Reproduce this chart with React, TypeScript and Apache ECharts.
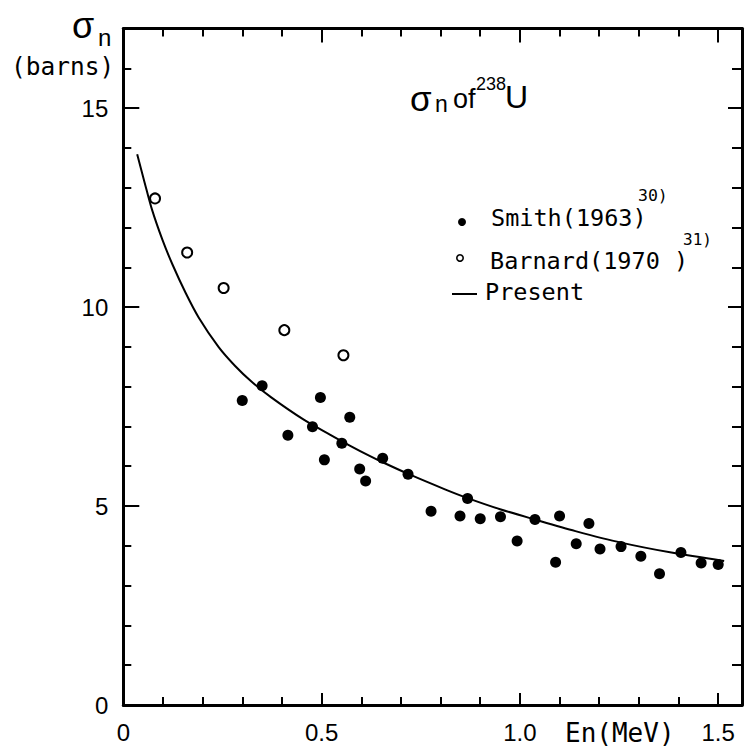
import React, { useEffect, useRef } from 'react';
import * as echarts from 'echarts';

// Smith (1963) — filled circles
const smithX = [0.300, 0.350, 0.415, 0.477, 0.497, 0.507, 0.551, 0.571, 0.596, 0.611, 0.654, 0.718, 0.776, 0.849, 0.868, 0.900, 0.951, 0.993, 1.038, 1.090, 1.100, 1.142, 1.174, 1.202, 1.255, 1.305, 1.352, 1.406, 1.457, 1.500];
const smithY = [7.65, 8.02, 6.78, 6.99, 7.73, 6.16, 6.58, 7.23, 5.93, 5.63, 6.20, 5.80, 4.87, 4.75, 5.19, 4.68, 4.73, 4.12, 4.66, 3.59, 4.75, 4.05, 4.56, 3.92, 3.98, 3.74, 3.30, 3.83, 3.57, 3.53];

// Barnard (1970) — open circles
const barnardX = [0.080, 0.161, 0.253, 0.406, 0.555];
const barnardY = [12.73, 11.37, 10.48, 9.42, 8.79];

// Present — curve
const presentX = [0.035, 0.054, 0.072, 0.099, 0.124, 0.157, 0.190, 0.240, 0.282, 0.323, 0.373, 0.455, 0.522, 0.571, 0.621, 0.654, 0.720, 0.811, 0.868, 0.950, 1.038, 1.140, 1.255, 1.382, 1.515];
const presentY = [13.84, 13.12, 12.46, 11.68, 11.07, 10.36, 9.74, 9.00, 8.52, 8.13, 7.73, 7.17, 6.79, 6.52, 6.26, 6.10, 5.80, 5.42, 5.20, 4.92, 4.66, 4.37, 4.08, 3.83, 3.62];

// Tick labels
const xTickValues = [0, 0.5, 1.0, 1.5];
const xTickLabels = ['0', '0.5', '1.0', '1.5'];
const yTickValues = [0, 5, 10, 15];
const yTickLabels = ['0', '5', '10', '15'];

const X_MAX = 1.56;
const Y_MAX = 17;

const SANS = '"Liberation Sans", Arial, sans-serif';
const MONO = '"DejaVu Sans Mono", monospace';

function pick(values: number[], labels: string[], v: number): string {
  const i = values.findIndex((t) => Math.abs(t - v) < 1e-6);
  return i >= 0 ? labels[i] : '';
}

function txt(text: string, x: number, y: number, font: string, align = 'left') {
  return {
    type: 'text',
    x,
    y,
    silent: true,
    style: { text, font, fill: '#000', textAlign: align, textVerticalAlign: 'middle' },
  };
}

function frameAxis(
  position: string,
  max: number,
  interval: number,
  tickLen: number,
  showLine: boolean,
  label: any
) {
  return {
    type: 'value',
    gridIndex: 0,
    position,
    min: 0,
    max,
    interval,
    axisLine: { show: showLine, onZero: false, lineStyle: { color: '#000', width: 3 } },
    axisTick: { show: true, inside: true, length: tickLen, lineStyle: { color: '#000', width: 2 } },
    minorTick: { show: false },
    splitLine: { show: false },
    axisLabel: label,
  };
}

export default function App() {
  const ref = useRef<HTMLDivElement>(null);

  useEffect(() => {
    if (!ref.current) return;
    const chart = echarts.init(ref.current, undefined, { renderer: 'svg' });

    const xLabel = {
      show: true,
      color: '#000',
      fontFamily: SANS,
      fontSize: 24,
      margin: 15,
      formatter: (v: number) => pick(xTickValues, xTickLabels, v),
    };
    const yLabel = {
      show: true,
      color: '#000',
      fontFamily: SANS,
      fontSize: 24,
      margin: 15,
      formatter: (v: number) => pick(yTickValues, yTickLabels, v),
    };
    const noLabel = { show: false };

    const option: any = {
      animation: false,
      backgroundColor: '#fff',
      grid: { left: 123.3, top: 28.5, right: -6.5, bottom: 48, containLabel: false },
      xAxis: [
        frameAxis('bottom', X_MAX, 0.1, 8, true, xLabel),
        frameAxis('bottom', X_MAX, 0.5, 12, false, noLabel),
        frameAxis('top', X_MAX, 0.1, 8, true, noLabel),
        frameAxis('top', X_MAX, 0.5, 14, false, noLabel),
      ],
      yAxis: [
        frameAxis('left', Y_MAX, 1, 8, true, yLabel),
        frameAxis('left', Y_MAX, 5, 16, false, noLabel),
        frameAxis('right', Y_MAX, 1, 10, true, noLabel),
        frameAxis('right', Y_MAX, 5, 14, false, noLabel),
      ],
      series: [
        {
          name: 'Present',
          type: 'line',
          xAxisIndex: 0,
          yAxisIndex: 0,
          data: presentX.map((x, i) => [x, presentY[i]]),
          smooth: 0.3,
          showSymbol: false,
          symbol: 'none',
          lineStyle: { color: '#000', width: 2 },
          z: 2,
        },
        {
          name: 'Barnard(1970)',
          type: 'scatter',
          xAxisIndex: 0,
          yAxisIndex: 0,
          data: barnardX.map((x, i) => [x, barnardY[i]]),
          symbol: 'circle',
          symbolSize: 10,
          itemStyle: { color: '#fff', borderColor: '#000', borderWidth: 2, opacity: 1 },
          z: 3,
        },
        {
          name: 'Smith(1963)',
          type: 'scatter',
          xAxisIndex: 0,
          yAxisIndex: 0,
          data: smithX.map((x, i) => [x, smithY[i]]),
          symbol: 'circle',
          symbolSize: 11,
          itemStyle: { color: '#000', opacity: 1 },
          z: 3,
        },
      ],
      graphic: [
        // y-axis name
        txt('σ', 72, 25.5, `36px ${SANS}`),
        txt('n', 98, 37, `24px ${SANS}`),
        txt('(barns)', 11, 66, `24.5px ${MONO}`),
        // x-axis name
        txt('En(MeV)', 565, 733, `26px ${MONO}`),
        // title
        txt('σ', 410, 98, `35px ${SANS}`),
        txt('n', 435, 104, `23px ${SANS}`),
        txt('of', 453, 98.6, `27px ${SANS}`),
        txt('238', 476, 83.7, `18px ${SANS}`),
        txt('U', 505, 97, `32px ${SANS}`),
        // legend
        { type: 'circle', silent: true, shape: { cx: 462, cy: 222, r: 4 }, style: { fill: '#000' } },
        txt('Smith(1963)', 491, 218, `23.5px ${MONO}`),
        txt('30)', 638, 195, `16.5px ${MONO}`),
        { type: 'circle', silent: true, shape: { cx: 460, cy: 258, r: 3.2 }, style: { fill: '#fff', stroke: '#000', lineWidth: 1.6 } },
        txt('Barnard(1970 )', 490, 261, `23.5px ${MONO}`),
        txt('31)', 683, 239, `16px ${MONO}`),
        { type: 'line', silent: true, shape: { x1: 452, y1: 294, x2: 477, y2: 294 }, style: { stroke: '#000', lineWidth: 2 } },
        txt('Present', 485, 292, `23.5px ${MONO}`),
      ],
    };

    chart.setOption(option);
    return () => chart.dispose();
  }, []);

  return (
    <div
      ref={ref}
      style={{ position: 'fixed', left: 0, top: 0, width: 745, height: 753, background: '#fff' }}
    />
  );
}
